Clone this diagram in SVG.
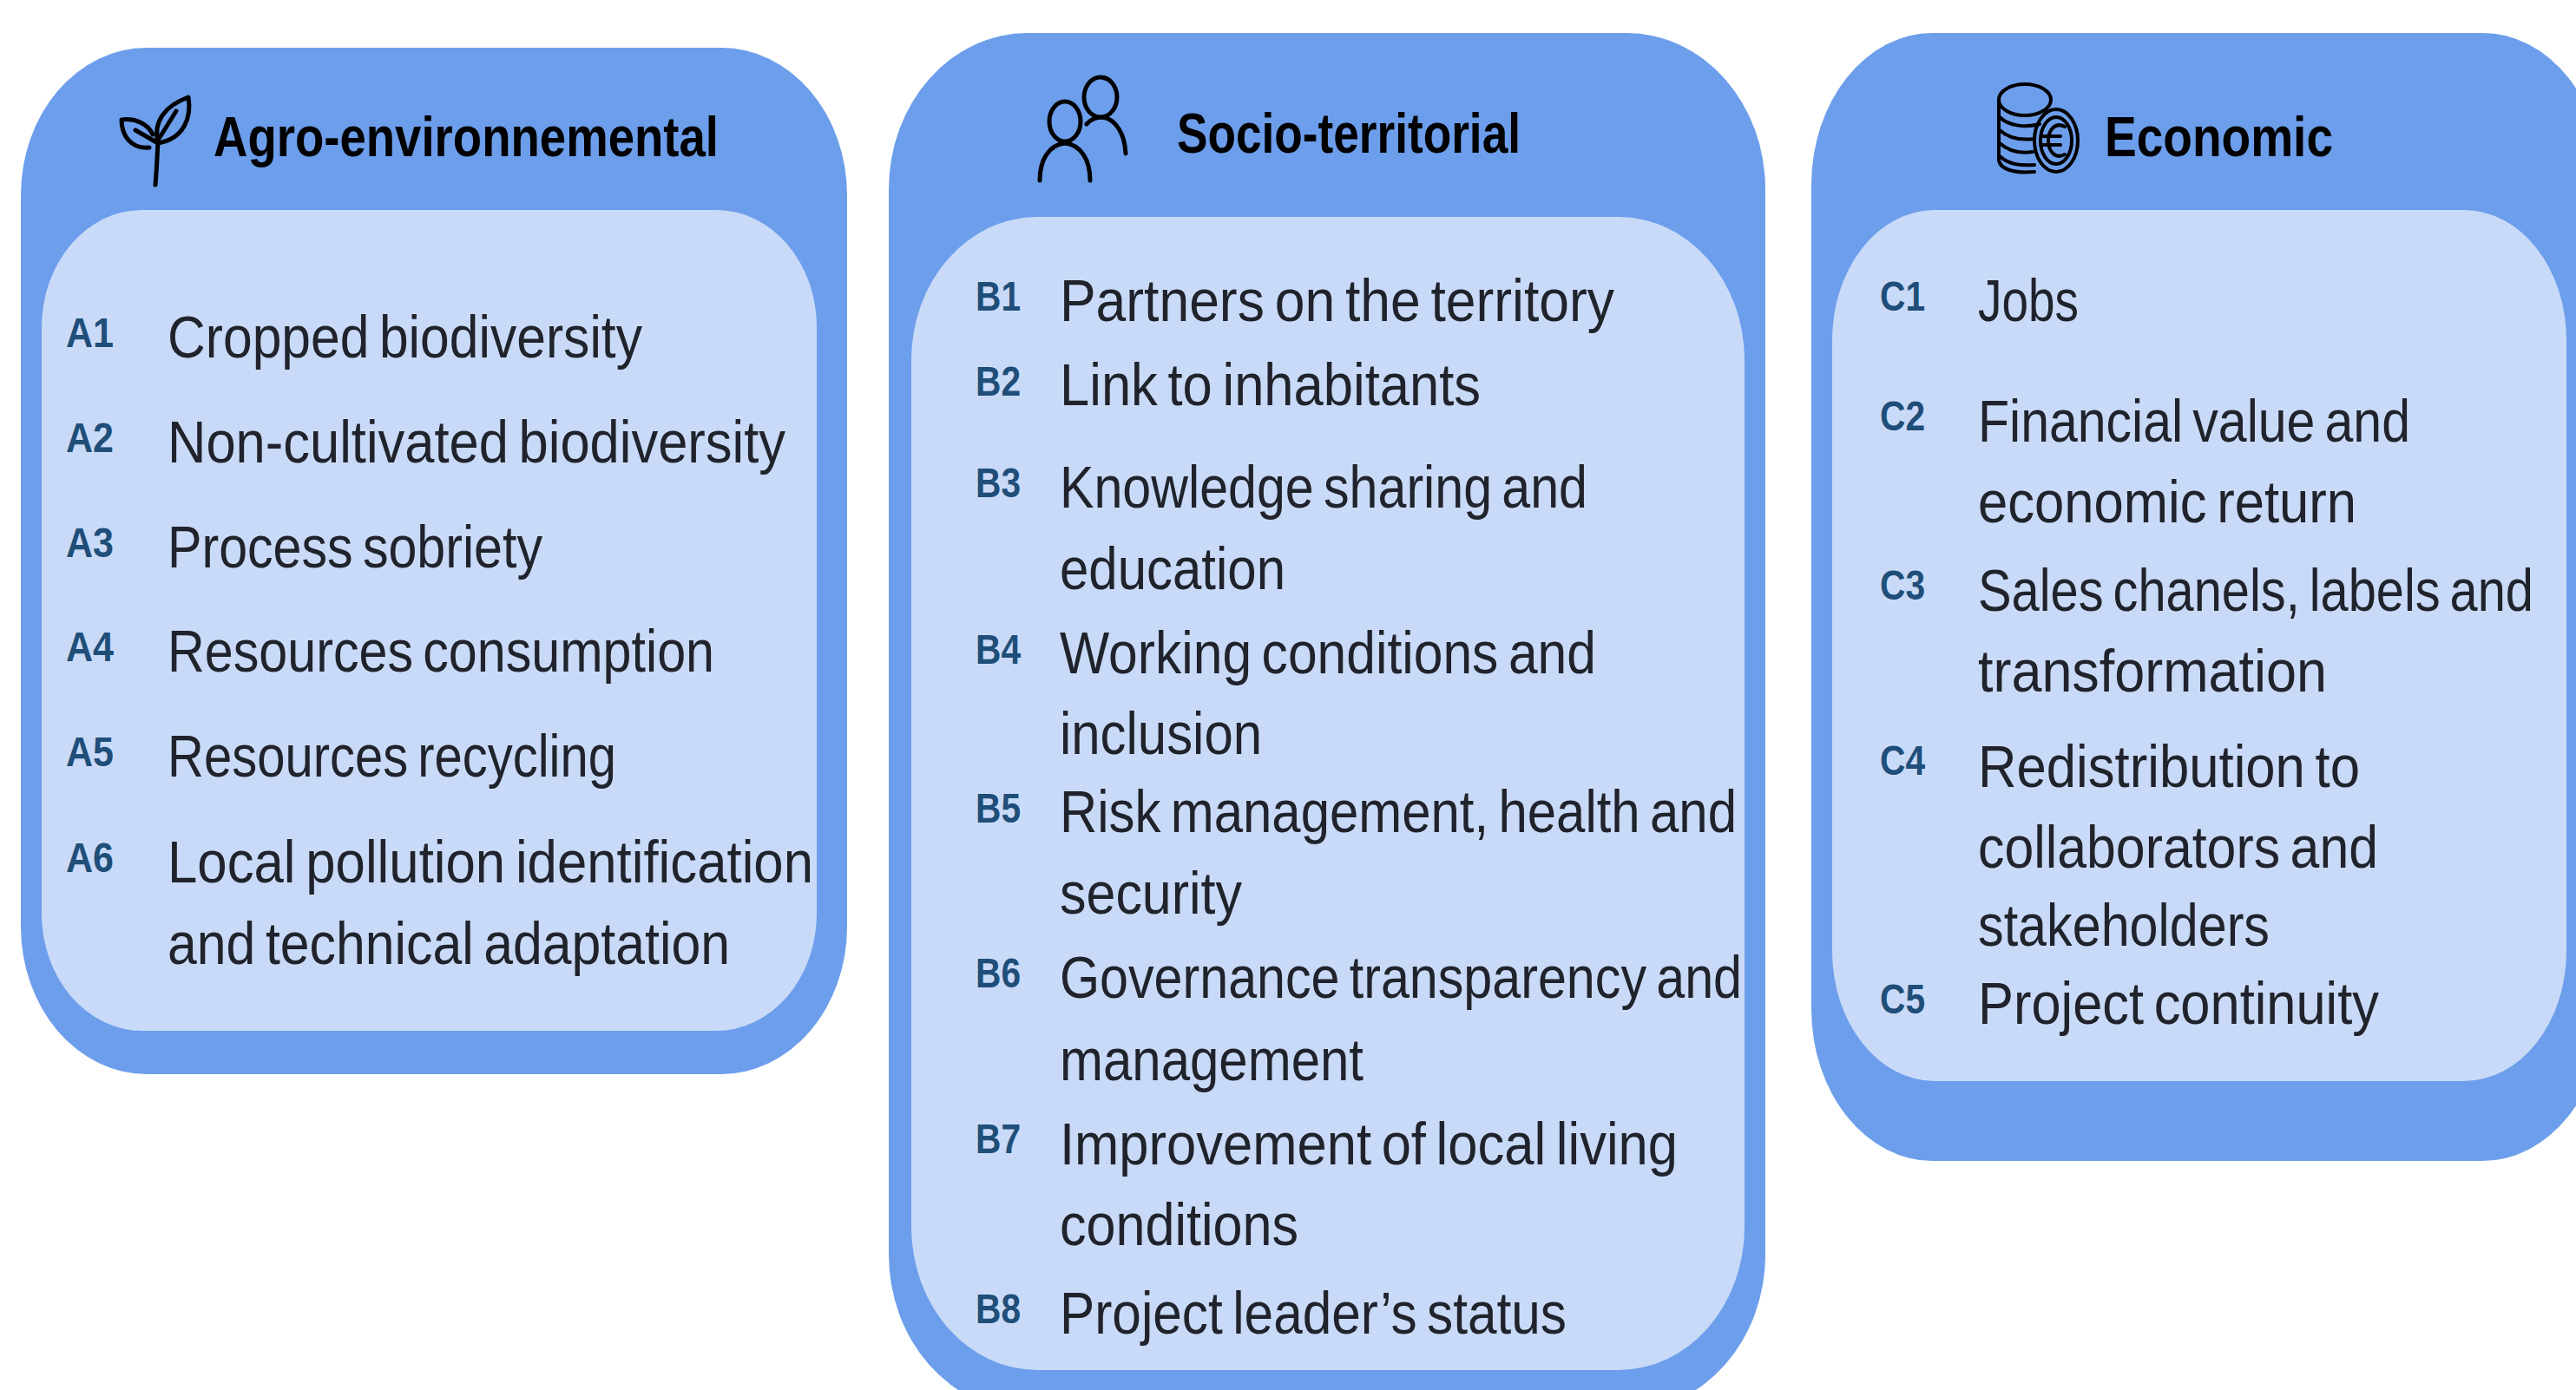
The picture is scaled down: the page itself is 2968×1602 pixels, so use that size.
<svg xmlns="http://www.w3.org/2000/svg" width="2968" height="1602" viewBox="0 0 2968 1602">
<style>
.outer{fill:#6d9eeb}
.inner{fill:#c9daf8}
.h{font-family:"Liberation Sans",Arial,sans-serif;font-weight:700;font-size:64px;fill:#000}
.t{font-family:"Liberation Sans",Arial,sans-serif;font-size:68px;fill:#20232b;word-spacing:-6px}
.k{font-family:"Liberation Sans",Arial,sans-serif;font-weight:700;font-size:48px;fill:#1f4e79}
.i{fill:none;stroke:#000;stroke-width:5;stroke-linecap:round;stroke-linejoin:round}
</style>
<rect width="2968" height="1602" fill="#fff"/>
<g id="panel-agro">
<rect class="outer" x="24" y="55" width="952" height="1183" rx="145" ry="170"/>
<rect class="inner" x="48" y="242" width="893" height="946" rx="116" ry="135"/>
<g id="icon-plant" class="i">
<path d="M179 213C181 190 181 178 182 165"/>
<path d="M182 165C176 140 190 122 217 112C221 135 212 160 182 165Z"/>
<path d="M183 160L203 128"/>
<path d="M172 170C150 172 140 155 140 138C155 136 170 142 176 155"/>
<path d="M156 150L182 165"/>
</g>
<text class="h" x="246" y="180" textLength="582" lengthAdjust="spacingAndGlyphs">Agro-environnemental</text>
<text class="k" x="76" y="400" textLength="55" lengthAdjust="spacingAndGlyphs">A1</text>
<text class="t" x="193" y="412" textLength="547" lengthAdjust="spacingAndGlyphs">Cropped biodiversity</text>
<text class="k" x="76" y="521" textLength="55" lengthAdjust="spacingAndGlyphs">A2</text>
<text class="t" x="193" y="533" textLength="712" lengthAdjust="spacingAndGlyphs">Non-cultivated biodiversity</text>
<text class="k" x="76" y="642" textLength="55" lengthAdjust="spacingAndGlyphs">A3</text>
<text class="t" x="193" y="654" textLength="432" lengthAdjust="spacingAndGlyphs">Process sobriety</text>
<text class="k" x="76" y="762" textLength="55" lengthAdjust="spacingAndGlyphs">A4</text>
<text class="t" x="193" y="774" textLength="630" lengthAdjust="spacingAndGlyphs">Resources consumption</text>
<text class="k" x="76" y="883" textLength="55" lengthAdjust="spacingAndGlyphs">A5</text>
<text class="t" x="193" y="895" textLength="517" lengthAdjust="spacingAndGlyphs">Resources recycling</text>
<text class="k" x="76" y="1005" textLength="55" lengthAdjust="spacingAndGlyphs">A6</text>
<text class="t" x="193" y="1017" textLength="744" lengthAdjust="spacingAndGlyphs">Local pollution identification</text>
<text class="t" x="193" y="1111" textLength="648" lengthAdjust="spacingAndGlyphs">and technical adaptation</text>
</g>
<g id="panel-socio">
<rect class="outer" x="1024" y="38" width="1010" height="1588" rx="160" ry="180"/>
<rect class="inner" x="1050" y="250" width="960" height="1329" rx="145" ry="165"/>
<g id="icon-people" class="i">
<ellipse cx="1268" cy="112" rx="19" ry="23"/>
<ellipse cx="1227" cy="140" rx="18" ry="23"/>
<path d="M1198 208C1198 185 1208 167 1227 165C1246 167 1256 185 1256 208"/>
<path d="M1252 143C1258 136 1264 135 1270 135C1286 137 1296 155 1297 177"/>
</g>
<text class="h" x="1356" y="176" textLength="396" lengthAdjust="spacingAndGlyphs">Socio-territorial</text>
<text class="k" x="1124" y="358" textLength="52" lengthAdjust="spacingAndGlyphs">B1</text>
<text class="t" x="1221" y="370" textLength="639" lengthAdjust="spacingAndGlyphs">Partners on the territory</text>
<text class="k" x="1124" y="456" textLength="52" lengthAdjust="spacingAndGlyphs">B2</text>
<text class="t" x="1221" y="467" textLength="485" lengthAdjust="spacingAndGlyphs">Link to inhabitants</text>
<text class="k" x="1124" y="573" textLength="52" lengthAdjust="spacingAndGlyphs">B3</text>
<text class="t" x="1221" y="585" textLength="608" lengthAdjust="spacingAndGlyphs">Knowledge sharing and</text>
<text class="t" x="1221" y="679" textLength="260" lengthAdjust="spacingAndGlyphs">education</text>
<text class="k" x="1124" y="765" textLength="52" lengthAdjust="spacingAndGlyphs">B4</text>
<text class="t" x="1221" y="776" textLength="618" lengthAdjust="spacingAndGlyphs">Working conditions and</text>
<text class="t" x="1221" y="869" textLength="233" lengthAdjust="spacingAndGlyphs">inclusion</text>
<text class="k" x="1124" y="948" textLength="52" lengthAdjust="spacingAndGlyphs">B5</text>
<text class="t" x="1221" y="959" textLength="780" lengthAdjust="spacingAndGlyphs">Risk management, health and</text>
<text class="t" x="1221" y="1053" textLength="210" lengthAdjust="spacingAndGlyphs">security</text>
<text class="k" x="1124" y="1138" textLength="52" lengthAdjust="spacingAndGlyphs">B6</text>
<text class="t" x="1221" y="1150" textLength="786" lengthAdjust="spacingAndGlyphs">Governance transparency and</text>
<text class="t" x="1221" y="1245" textLength="350" lengthAdjust="spacingAndGlyphs">management</text>
<text class="k" x="1124" y="1329" textLength="52" lengthAdjust="spacingAndGlyphs">B7</text>
<text class="t" x="1221" y="1342" textLength="712" lengthAdjust="spacingAndGlyphs">Improvement of local living</text>
<text class="t" x="1221" y="1435" textLength="275" lengthAdjust="spacingAndGlyphs">conditions</text>
<text class="k" x="1124" y="1525" textLength="52" lengthAdjust="spacingAndGlyphs">B8</text>
<text class="t" x="1221" y="1537" textLength="584" lengthAdjust="spacingAndGlyphs">Project leader’s status</text>
</g>
<g id="panel-economic">
<rect class="outer" x="2087" y="38" width="913" height="1300" rx="140" ry="175"/>
<rect class="inner" x="2111" y="242" width="846" height="1004" rx="118" ry="150"/>
<g id="icon-coins" class="i" style="stroke-width:4">
<ellipse cx="2333" cy="115" rx="30" ry="18"/>
<path d="M2303 115V185C2305 195 2320 200 2344 198"/>
<path d="M2304 135C2315 146 2335 147 2350 143"/>
<path d="M2304 150C2315 160 2328 162 2344 160"/>
<path d="M2304 165C2315 175 2328 177 2342 175"/>
<path d="M2304 180C2315 190 2328 191 2344 190"/>
<ellipse cx="2369" cy="162" rx="25" ry="36"/>
<ellipse cx="2369" cy="162" rx="18" ry="27"/>
<path d="M2379 146C2368 140 2360 150 2360 162C2360 174 2368 184 2379 178"/>
<path d="M2354 157H2374M2354 167H2374"/>
</g>
<text class="h" x="2425" y="180" textLength="263" lengthAdjust="spacingAndGlyphs">Economic</text>
<text class="k" x="2166" y="358" textLength="52" lengthAdjust="spacingAndGlyphs">C1</text>
<text class="t" x="2279" y="370" textLength="116" lengthAdjust="spacingAndGlyphs">Jobs</text>
<text class="k" x="2166" y="496" textLength="52" lengthAdjust="spacingAndGlyphs">C2</text>
<text class="t" x="2279" y="509" textLength="498" lengthAdjust="spacingAndGlyphs">Financial value and</text>
<text class="t" x="2279" y="602" textLength="436" lengthAdjust="spacingAndGlyphs">economic return</text>
<text class="k" x="2166" y="691" textLength="52" lengthAdjust="spacingAndGlyphs">C3</text>
<text class="t" x="2279" y="704" textLength="640" lengthAdjust="spacingAndGlyphs">Sales chanels, labels and</text>
<text class="t" x="2279" y="797" textLength="402" lengthAdjust="spacingAndGlyphs">transformation</text>
<text class="k" x="2166" y="893" textLength="52" lengthAdjust="spacingAndGlyphs">C4</text>
<text class="t" x="2279" y="907" textLength="440" lengthAdjust="spacingAndGlyphs">Redistribution to</text>
<text class="t" x="2279" y="1000" textLength="461" lengthAdjust="spacingAndGlyphs">collaborators and</text>
<text class="t" x="2279" y="1090" textLength="336" lengthAdjust="spacingAndGlyphs">stakeholders</text>
<text class="k" x="2166" y="1168" textLength="52" lengthAdjust="spacingAndGlyphs">C5</text>
<text class="t" x="2279" y="1180" textLength="462" lengthAdjust="spacingAndGlyphs">Project continuity</text>
</g>
</svg>
